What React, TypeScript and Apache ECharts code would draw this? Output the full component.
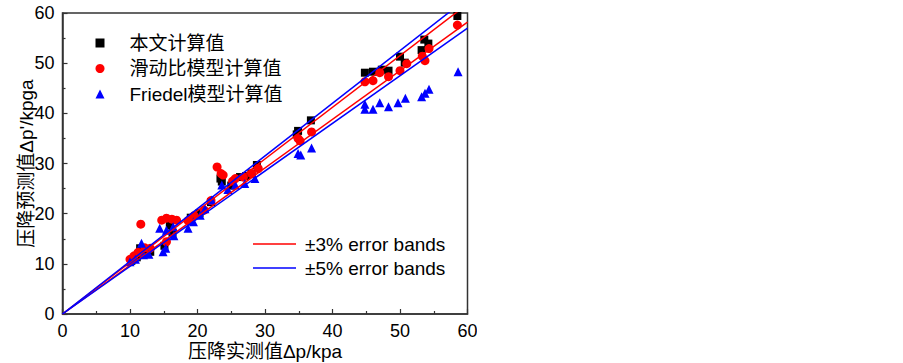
import React, { useEffect, useRef } from "react";
import * as echarts from "echarts";

const xTicks = [0, 10, 20, 30, 40, 50, 60];
const yTicks = [0, 10, 20, 30, 40, 50, 60];

const ourModel: number[][] = [
  [10.2, 10.6], [11, 11.3], [12, 12.6], [11.5, 13.1], [13, 12.4], [15.1, 13.6],
  [15.9, 17.7], [16.3, 16.2], [19, 19.2], [20.3, 20.1], [22, 22.3], [23.6, 26.4],
  [23.4, 27.0], [25, 25.6], [26.3, 27.3], [27.2, 27.5], [28, 28.0], [28.8, 29.7],
  [34.7, 35.8], [34.9, 36.5], [36.8, 38.6], [44.8, 48.1], [46, 48.3], [47.3, 48.7],
  [48.3, 48.5], [50, 51.3], [50.7, 50.1], [53.2, 52.6], [53.6, 54.7], [54.2, 53.9],
  [58.5, 59.4],
];

const slipRatioModel: number[][] = [
  [10, 10.9], [10.6, 11.6], [11.6, 17.9], [11.2, 12.3], [12.2, 13.2], [13, 13.1],
  [14.7, 18.7], [15.4, 19.1], [16.2, 18.9], [16.9, 18.7], [15.4, 14.4], [18.6, 18.6],
  [19.5, 19.6], [21, 20.7], [22, 22.6], [22.9, 29.3], [23.5, 28], [23.8, 27.7],
  [25.2, 26.5], [25.6, 27], [26.8, 27.3], [28, 28], [29, 29], [34.9, 35.0],
  [35.2, 34.5], [36.9, 36.3], [44.8, 46.3], [46, 46.5], [47, 48.1], [48.3, 47.3],
  [50, 48.5], [51, 49.9], [53.3, 51.4], [53.7, 50.5], [54.3, 52.9], [58.5, 57.6],
];

const friedelModel: number[][] = [
  [10, 10.4], [10.8, 10.9], [11.7, 14.1], [12, 11.8], [12.8, 11.9], [14.4, 17.1],
  [15.4, 16.7], [16.4, 17.4], [14.9, 12.4], [15.3, 13.1], [16.5, 15.6], [18.6, 17.1],
  [19.4, 18.4], [20.4, 19.7], [21.1, 21.0], [22.1, 22.7], [23.6, 25.7], [24.5, 24.8],
  [25.6, 25.7], [27, 26], [28.5, 27], [34.9, 32.0], [35.3, 31.7], [36.9, 33.1],
  [44.8, 40.8], [44.8, 41.8], [46, 40.8], [47, 42.1], [48.3, 41.3], [49.7, 42.1],
  [50.8, 43.0], [53.2, 43.3], [53.7, 44.0], [54.3, 44.8], [58.6, 48.3],
];

const bandX = [0, 60];
const band3Factors = [1.03, 0.97];
const band5Factors = [1.05, 0.95];

const seriesNames = ["本文计算值", "滑动比模型计算值", "Friedel模型计算值"];
const seriesSymbols = ["rect", "circle", "triangle"];
const bandNames = ["±3% error bands", "±5% error bands"];

const FONT = "'Liberation Sans', Arial, 'Noto Sans CJK SC', sans-serif";

export default function App() {
  const ref = useRef<HTMLDivElement>(null);

  useEffect(() => {
    if (!ref.current) return;
    const chart = echarts.init(ref.current, undefined, { renderer: "svg" });

    const bandLine = (name: string, f: number, color: string) => ({
      name,
      type: "line",
      data: bandX.map((x) => [x, x * f]),
      symbol: "none",
      showSymbol: false,
      lineStyle: { color, width: 1.5 },
      itemStyle: { color },
      z: 5,
    });

    chart.setOption({
      animation: false,
      backgroundColor: "#ffffff",
      textStyle: { fontFamily: FONT },
      grid: {
        left: 62.5,
        right: 9.5,
        top: 13,
        bottom: 49,
        show: true,
        borderColor: "#333",
        borderWidth: 1.5,
        backgroundColor: "transparent",
        outerBoundsMode: "none",
        containLabel: false,
      },
      legend: [
        {
          data: seriesNames.map((n, i) => ({ name: n, icon: seriesSymbols[i] })),
          orient: "vertical",
          left: 95.5,
          top: 33,
          padding: 0,
          itemWidth: 9,
          itemHeight: 9,
          itemGap: 5.5,
          textStyle: {
            fontSize: 19,
            lineHeight: 20,
            color: "#000",
            fontFamily: FONT,
            padding: [0, 0, 0, 20],
          },
        },
        {
          data: bandNames.map((n) => ({ name: n, icon: "rect" })),
          orient: "vertical",
          left: 253,
          top: 234,
          padding: 0,
          itemWidth: 43,
          itemHeight: 1.6,
          itemGap: 4,
          textStyle: {
            fontSize: 19,
            lineHeight: 20,
            color: "#000",
            fontFamily: FONT,
            padding: [0, 0, 0, 4],
          },
        },
      ],
      xAxis: {
        type: "value",
        min: xTicks[0],
        max: xTicks[xTicks.length - 1],
        interval: 10,
        name: "压降实测值Δp/kpa",
        nameLocation: "middle",
        nameGap: 28,
        nameMoveOverlap: false,
        nameTextStyle: { fontSize: 19, color: "#000", fontFamily: FONT },
        axisLine: { lineStyle: { color: "#333", width: 1.5 } },
        axisTick: { inside: true, length: 5, lineStyle: { color: "#333", width: 1.2 } },
        minorTick: { show: true, splitNumber: 2, length: 3, lineStyle: { color: "#333", width: 1.2 } },
        axisLabel: { fontSize: 18, color: "#000", margin: 8, fontFamily: FONT, hideOverlap: false },
        splitLine: { show: false },
      },
      yAxis: {
        type: "value",
        min: yTicks[0],
        max: yTicks[yTicks.length - 1],
        interval: 10,
        name: "压降预测值Δp'/kpga",
        nameLocation: "middle",
        nameGap: 26.5,
        nameMoveOverlap: false,
        nameTextStyle: { fontSize: 19, color: "#000", fontFamily: FONT },
        axisLine: { lineStyle: { color: "#333", width: 1.5 } },
        axisTick: { inside: true, length: 5, lineStyle: { color: "#333", width: 1.2 } },
        minorTick: { show: true, splitNumber: 2, length: 3, lineStyle: { color: "#333", width: 1.2 } },
        axisLabel: { fontSize: 18, color: "#000", margin: 8, fontFamily: FONT, hideOverlap: false },
        splitLine: { show: false },
      },
      series: [
        {
          name: seriesNames[0],
          type: "scatter",
          data: ourModel,
          symbol: seriesSymbols[0],
          symbolSize: 8,
          itemStyle: { color: "#000000", opacity: 1 },
          z: 2,
        },
        {
          name: seriesNames[1],
          type: "scatter",
          data: slipRatioModel,
          symbol: seriesSymbols[1],
          symbolSize: 9,
          itemStyle: { color: "#ff0000", opacity: 1 },
          z: 3,
        },
        {
          name: seriesNames[2],
          type: "scatter",
          data: friedelModel,
          symbol: seriesSymbols[2],
          symbolSize: 9,
          itemStyle: { color: "#0000ff", opacity: 1 },
          z: 4,
        },
        bandLine(bandNames[0], band3Factors[0], "#ff0000"),
        bandLine(bandNames[0], band3Factors[1], "#ff0000"),
        bandLine(bandNames[1], band5Factors[0], "#0000ff"),
        bandLine(bandNames[1], band5Factors[1], "#0000ff"),
      ],
    });

    return () => chart.dispose();
  }, []);

  return (
    <div
      style={{
        position: "absolute",
        left: 0,
        top: 0,
        width: 903,
        height: 363,
        background: "#fff",
        overflow: "hidden",
      }}
    >
      <div ref={ref} style={{ width: 477, height: 363 }} />
    </div>
  );
}
